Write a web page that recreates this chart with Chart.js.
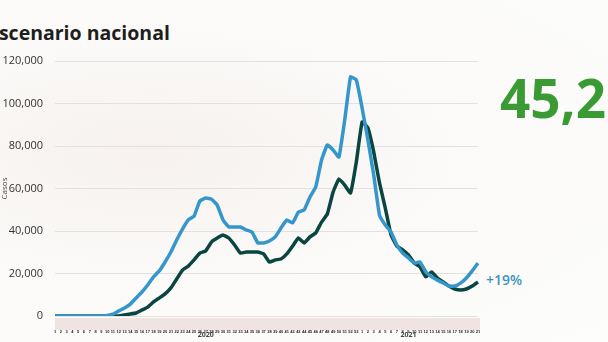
<!DOCTYPE html>
<html>
<head>
<meta charset="utf-8">
<script src="https://cdn.jsdelivr.net/npm/chart.js@4/dist/chart.umd.min.js"></script>
<style>
  html, body { margin: 0; padding: 0; }
  body {
    width: 608px; height: 342px; overflow: hidden; position: relative;
    background: radial-gradient(ellipse at 25% 45%, #f6f1ee 0%, #fbfaf8 45%, #fdfdfc 100%);
    font-family: "Open Sans", "Noto Sans", sans-serif;
  }
  #wrap { position: absolute; left: 0; top: 0; width: 608px; height: 342px; }
  .title {
    position: absolute; left: -12px; top: 19px;
    font-size: 19.5px; font-weight: 700; color: #1e1e1e; white-space: nowrap;
  }
  .big {
    position: absolute; left: 500px; top: 61px;
    font-size: 53px; font-weight: 700; color: #3a9a34; white-space: nowrap;
  }
  .pct {
    position: absolute; left: 486px; top: 270px;
    font-size: 14px; font-weight: 600; color: #3d94bb; white-space: nowrap;
  }
</style>
</head>
<body>
<div class="title">Escenario nacional</div>
<div class="big">45,2</div>
<div class="pct">+19%</div>
<div id="wrap"><canvas id="casesChart"></canvas></div>

<script>
// epidemiological weeks: 2020 weeks 1-53, 2021 weeks 1-21
const weeks2020 = Array.from({length: 53}, (_, i) => String(i + 1));
const weeks2021 = Array.from({length: 21}, (_, i) => String(i + 1));
const weekLabels = weeks2020.concat(weeks2021);

const years = ["2020", "2021"];

// estimated cases (light blue)
const estimated = [
  0, 0, 0, 0, 0, 0, 0, 0, 0, 300,
  900, 2400, 3800, 5600, 8500, 11300, 14600, 18400, 21200, 25400,
  30100, 35800, 40900, 45200, 47000, 54100, 55500, 55000, 52200, 45200,
  41900, 41900, 41900, 40500, 39500, 34400, 34400, 35300, 37200, 41400,
  45200, 43800, 48900, 49900, 56000, 60700, 73400, 80500, 78100, 74800,
  92200, 112500, 111100, 97900, 82800, 66400, 47500, 42800, 39500, 33400,
  29600, 27300, 24900, 25400, 20700, 18400, 16900, 15500, 14100, 14100,
  15500, 17900, 21200, 24900
];

// confirmed cases (dark green)
const confirmed = [
  0, 0, 0, 0, 0, 0, 0, 0, 0, 0,
  0, 0, 500, 900, 1400, 2800, 4200, 6600, 8500, 10400,
  13200, 17400, 21600, 23500, 26400, 29600, 30600, 34800, 36700, 38100,
  36700, 33400, 29600, 30100, 30100, 30100, 29200, 25400, 26400, 26800,
  29200, 32900, 36700, 34400, 37200, 39100, 44200, 48000, 58400, 64500,
  61600, 57900, 72500, 91300, 88500, 77200, 62600, 50800, 38100, 32900,
  31100, 28700, 24900, 23100, 18400, 20700, 17900, 16000, 14100, 12700,
  12200, 12700, 14100, 16000
];

const yTicks = [0, 20000, 40000, 60000, 80000, 100000, 120000];

// pink band under the week labels + year captions
const axisDecor = {
  id: "axisDecor",
  beforeDraw(chart) {
    const {ctx, chartArea} = chart;
    ctx.save();
    ctx.fillStyle = "#f0e4e0";
    ctx.fillRect(chartArea.left, chartArea.bottom + 2, chartArea.right - chartArea.left + 2, 12);
    ctx.restore();
  },
  afterDraw(chart) {
    const {ctx, chartArea} = chart;
    const x = chart.scales.x;
    const centers = [26, 61];
    ctx.save();
    ctx.font = "700 7px 'Open Sans'";
    ctx.fillStyle = "#444";
    ctx.textAlign = "center";
    ctx.textBaseline = "middle";
    years.forEach((y, i) => {
      ctx.fillText(y, x.getPixelForValue(centers[i]), chartArea.bottom + 19);
    });
    ctx.restore();
  }
};

new Chart(document.getElementById("casesChart"), {
  type: "line",
  data: {
    labels: weekLabels,
    datasets: [
      {
        label: "Estimados",
        data: estimated,
        borderColor: "#3596cb",
        borderWidth: 3.5,
        pointRadius: 0,
        tension: 0.1
      },
      {
        label: "Confirmados",
        data: confirmed,
        borderColor: "#0b453f",
        borderWidth: 3.5,
        pointRadius: 0,
        tension: 0.1
      }
    ]
  },
  options: {
    responsive: true,
    maintainAspectRatio: false,
    animation: false,
    layout: { padding: { top: 61, right: 130, left: 0, bottom: 0 } },
    plugins: {
      legend: { display: false },
      tooltip: { enabled: false }
    },
    scales: {
      x: {
        offset: false,
        grid: { display: false },
        border: { display: false },
        ticks: {
          autoSkip: false,
          maxRotation: 0,
          padding: 5,
          color: "#222",
          font: { size: 4, weight: "700" }
        },
        afterFit(scale) { scale.height = 26; }
      },
      y: {
        min: 0,
        max: 120000,
        afterBuildTicks(scale) { scale.ticks = yTicks.map(v => ({value: v})); },
        grid: { color: "#e4e0dd", lineWidth: 1, drawTicks: false },
        border: { display: false },
        ticks: {
          padding: 12,
          color: "#333",
          font: { family: "Open Sans", size: 11, weight: "500" },
          callback: v => v.toLocaleString("en-US")
        },
        title: {
          display: true,
          text: "Casos",
          color: "#444",
          padding: 0,
          font: { family: "Open Sans", size: 8 }
        },
        afterFit(scale) { scale.width = 55; }
      }
    }
  },
  plugins: [axisDecor]
});
</script>
</body>
</html>
